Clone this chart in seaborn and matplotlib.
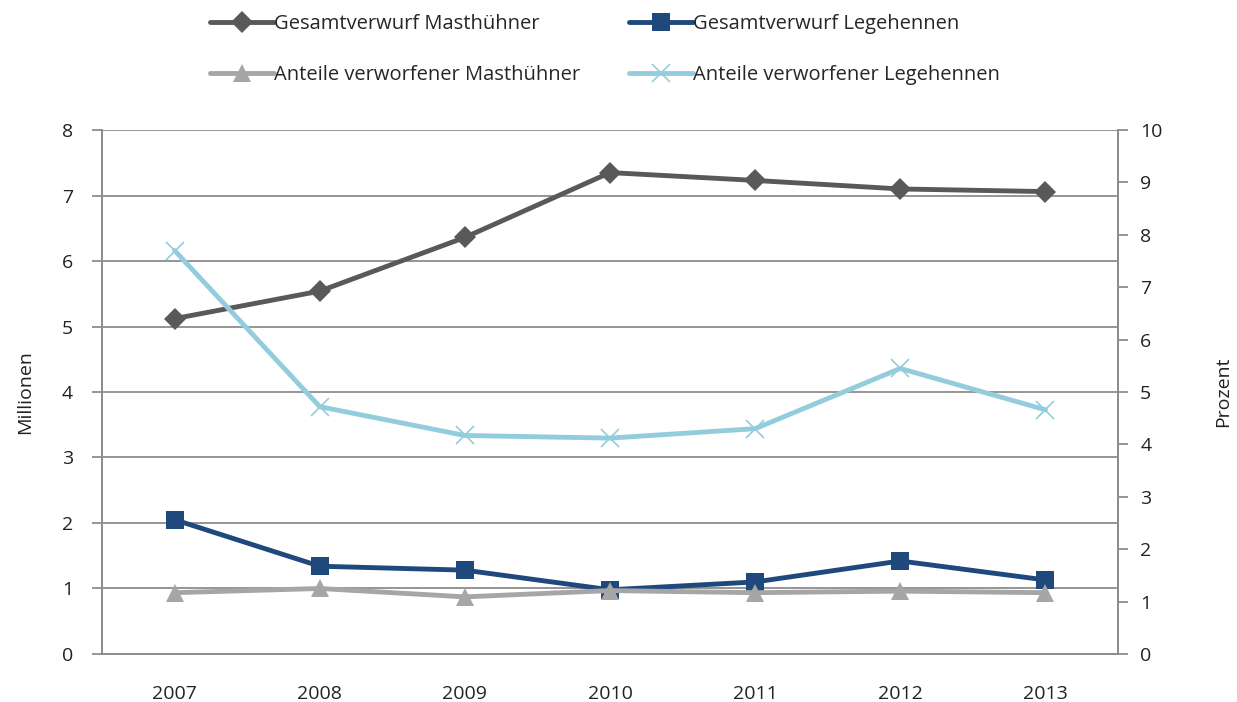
import numpy as np
import pandas as pd
import seaborn as sns
import matplotlib.pyplot as plt
from matplotlib.lines import Line2D
from matplotlib.ticker import MultipleLocator, FixedLocator

# Daten
years = [2007, 2008, 2009, 2010, 2011, 2012, 2013]
gesamt_mast = [5.12, 5.54, 6.36, 7.35, 7.23, 7.10, 7.06]      # Millionen
gesamt_lege = [2.05, 1.34, 1.28, 0.98, 1.10, 1.42, 1.13]      # Millionen
anteil_mast = [1.17, 1.25, 1.09, 1.21, 1.17, 1.20, 1.17]      # Prozent
anteil_lege = [7.70, 4.72, 4.17, 4.12, 4.30, 5.45, 4.66]      # Prozent

labels = ['Gesamtverwurf Masthühner', 'Gesamtverwurf Legehennen',
          'Anteile verworfener Masthühner', 'Anteile verworfener Legehennen']

df = pd.DataFrame({
    'year': years,
    'gesamt_mast': gesamt_mast,
    'gesamt_lege': gesamt_lege,
    'anteil_mast': anteil_mast,
    'anteil_lege': anteil_lege,
})

sns.set_style('white')
plt.rcParams['font.family'] = ['Open Sans', 'DejaVu Sans']

c_dark = '#595959'
c_navy = '#1F497D'
c_lgray = '#A6A6A6'
c_lblue = '#93CDDD'
c_axis = '#8C8C8C'
c_text = '#222222'

# Stil pro Reihe
styles = {
    'gesamt_mast': dict(color=c_dark, marker='D', markersize=11, markeredgewidth=0),
    'gesamt_lege': dict(color=c_navy, marker='s', markersize=13, markeredgewidth=0),
    'anteil_mast': dict(color=c_lgray, marker='^', markersize=13, markeredgewidth=0),
    'anteil_lege': dict(color=c_lblue, marker='x', markersize=13, markeredgewidth=1.2,
                        markeredgecolor=c_lblue),
}

fig = plt.figure(figsize=(12.37, 7.02), dpi=100)
ax = fig.add_axes([0.0825, 0.0684, 0.8213, 0.7464])
ax2 = ax.twinx()

for col, a in [('gesamt_mast', ax), ('gesamt_lege', ax),
               ('anteil_mast', ax2), ('anteil_lege', ax2)]:
    sns.lineplot(data=df, x='year', y=col, ax=a, lw=3.5, **styles[col])

ax.set_xlim(2006.5, 2013.5)
ax.set_ylim(0, 8)
ax2.set_ylim(0, 10)
ax.yaxis.set_major_locator(MultipleLocator(1))
ax2.yaxis.set_major_locator(MultipleLocator(1))
ax.xaxis.set_major_locator(FixedLocator(years))
ax.xaxis.set_minor_locator(FixedLocator([y + 0.5 for y in years[:-1]]))

ax.grid(axis='y', color=c_axis, lw=1.3)
ax.grid(axis='x', visible=False)
ax.set_axisbelow(True)

for a in (ax, ax2):
    a.spines['top'].set_visible(False)
    for s in ('left', 'right', 'bottom'):
        a.spines[s].set_color(c_axis)
        a.spines[s].set_linewidth(1.3)

ax.tick_params(axis='x', which='major', length=0, pad=22, labelsize=14, labelcolor=c_text)
ax.tick_params(axis='x', which='minor', length=7, width=1.3, color=c_axis, direction='out')
ax.tick_params(axis='y', length=7, width=1.3, color=c_axis, pad=14, labelsize=14,
               labelcolor=c_text)
ax2.tick_params(axis='y', length=7, width=1.3, color=c_axis, pad=9, labelsize=14,
                labelcolor=c_text)

ax.set_xlabel('')
ax.set_ylabel('Millionen', fontsize=14, labelpad=20, color=c_text)
ax2.set_ylabel('Prozent', fontsize=14, labelpad=37, color=c_text)

order = ['gesamt_mast', 'anteil_mast', 'gesamt_lege', 'anteil_lege']
handles = [Line2D([], [], lw=3.5, **styles[k]) for k in order]
leg_labels = [labels[0], labels[2], labels[1], labels[3]]
fig.legend(handles, leg_labels, loc='upper center', bbox_to_anchor=(0.489, 0.995), ncol=2,
           frameon=False, fontsize=14.5, handlelength=3.2, handletextpad=0.0,
           columnspacing=2.4, labelspacing=1.55, borderaxespad=0.1)

fig.savefig('out.png', dpi=100)
